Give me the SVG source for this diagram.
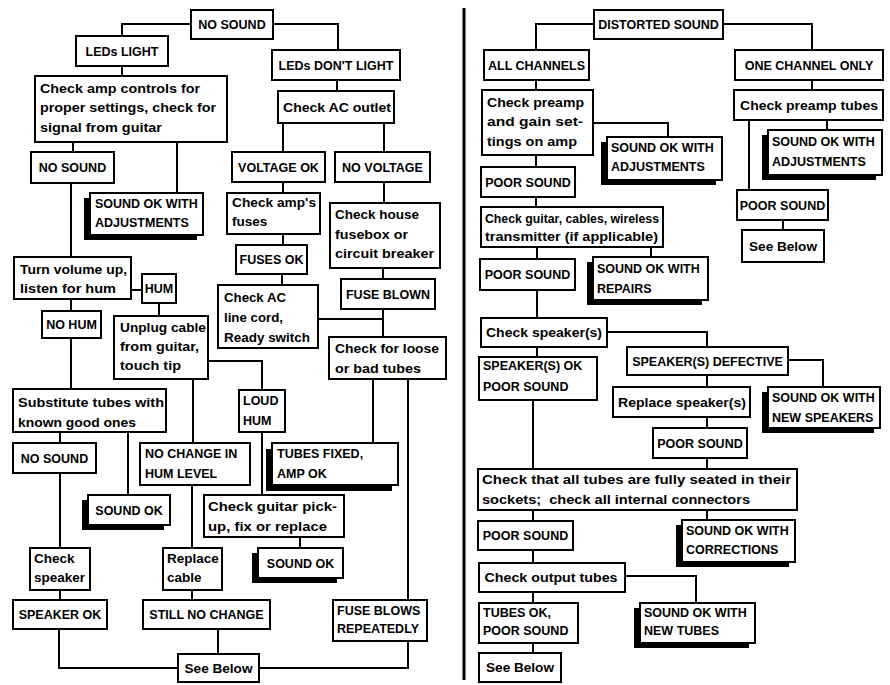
<svg xmlns="http://www.w3.org/2000/svg" width="890" height="685" viewBox="0 0 890 685">
<style>
.box{fill:#fff;stroke:#000;stroke-width:2}
.sh{fill:#000}
.c{fill:none;stroke:#000;stroke-width:2}
text{font-family:"Liberation Sans",Arial,sans-serif;font-weight:bold;font-size:12.5px;fill:#000}
.l{font-size:13.5px}
.m{text-anchor:middle}
.pre{white-space:pre}
</style>
<rect width="890" height="685" fill="#fff"/>
<g id="connectors">
<path class="c" d="M191,24H122V36"/>
<path class="c" d="M273,24H338V50"/>
<path class="c" d="M122,66V76"/>
<path class="c" d="M73,142V152"/>
<path class="c" d="M177,142V193"/>
<path class="c" d="M71,183V257"/>
<path class="c" d="M131,290H142"/>
<path class="c" d="M71,299V311"/>
<path class="c" d="M159,303V316"/>
<path class="c" d="M71,338V389"/>
<path class="c" d="M208,361H262V390"/>
<path class="c" d="M193,379V443"/>
<path class="c" d="M262,432V495"/>
<path class="c" d="M60,432V443"/>
<path class="c" d="M128,432V495"/>
<path class="c" d="M60,473V548"/>
<path class="c" d="M60,590V600"/>
<path class="c" d="M59,629V668H178"/>
<path class="c" d="M192,485V548"/>
<path class="c" d="M192,590V600"/>
<path class="c" d="M218,629V654"/>
<path class="c" d="M300,537V548"/>
<path class="c" d="M337,80V91"/>
<path class="c" d="M283,123V152"/>
<path class="c" d="M384,123V152"/>
<path class="c" d="M283,182V193"/>
<path class="c" d="M384,182V203"/>
<path class="c" d="M283,234V245"/>
<path class="c" d="M383,268V279"/>
<path class="c" d="M282,274V285"/>
<path class="c" d="M383,309V337"/>
<path class="c" d="M318,319H383"/>
<path class="c" d="M373,379V443"/>
<path class="c" d="M408,379V600"/>
<path class="c" d="M408,641V668H259"/>
<path class="c" d="M594,24H536V50"/>
<path class="c" d="M723,24H812V50"/>
<path class="c" d="M536,80V90"/>
<path class="c" d="M593,123H668V137"/>
<path class="c" d="M536,155V167"/>
<path class="c" d="M536,197V207"/>
<path class="c" d="M537,247V259"/>
<path class="c" d="M651,247V257"/>
<path class="c" d="M537,290V318"/>
<path class="c" d="M537,347V357"/>
<path class="c" d="M607,332H707V347"/>
<path class="c" d="M788,360H823V387"/>
<path class="c" d="M707,375V387"/>
<path class="c" d="M707,417V428"/>
<path class="c" d="M707,458V469"/>
<path class="c" d="M533,400V469"/>
<path class="c" d="M707,510V520"/>
<path class="c" d="M533,510V521"/>
<path class="c" d="M533,550V563"/>
<path class="c" d="M625,576H696V603"/>
<path class="c" d="M533,592V603"/>
<path class="c" d="M533,643V653"/>
<path class="c" d="M812,80V90"/>
<path class="c" d="M827,120V130"/>
<path class="c" d="M749,120V190"/>
<path class="c" d="M783,220V230"/>
</g>
<path id="divider" d="M464,8V680" stroke="#000" stroke-width="3" fill="none"/>
<g id="n-nosound"><rect class="box" x="191" y="10" width="82" height="29"/><text class="m" x="232" y="29">NO SOUND</text></g>
<g id="n-ledslight"><rect class="box" x="76" y="36" width="92" height="30"/><text class="m" x="122" y="56">LEDs LIGHT</text></g>
<g id="n-checkamp"><rect class="box" x="35" y="76" width="192" height="66"/><text class="l" x="40" y="93" textLength="160" lengthAdjust="spacingAndGlyphs">Check amp controls for</text><text class="l" x="40" y="112" textLength="176" lengthAdjust="spacingAndGlyphs">proper settings, check for</text><text class="l" x="40" y="132" textLength="122" lengthAdjust="spacingAndGlyphs">signal from guitar</text></g>
<g id="n-nosound2"><rect class="box" x="31" y="152" width="83" height="31"/><text class="m" x="72.5" y="172">NO SOUND</text></g>
<g id="n-okadj1"><rect class="sh" x="84" y="198" width="113" height="42"/><rect class="box" x="90" y="193" width="113" height="42"/><text x="95" y="208">SOUND OK WITH</text><text x="95" y="227">ADJUSTMENTS</text></g>
<g id="n-turnvol"><rect class="box" x="14" y="257" width="117" height="42"/><text class="l" x="20" y="274" textLength="107" lengthAdjust="spacingAndGlyphs">Turn volume up,</text><text class="l" x="20" y="293" textLength="96" lengthAdjust="spacingAndGlyphs">listen for hum</text></g>
<g id="n-hum"><rect class="box" x="142" y="274" width="34" height="29"/><text class="m" x="159" y="293">HUM</text></g>
<g id="n-nohum"><rect class="box" x="42" y="311" width="59" height="27"/><text class="m" x="71.5" y="329">NO HUM</text></g>
<g id="n-unplug"><rect class="box" x="114" y="316" width="94" height="63"/><text class="l" x="120" y="332" textLength="86" lengthAdjust="spacingAndGlyphs">Unplug cable</text><text class="l" x="120" y="351" textLength="79" lengthAdjust="spacingAndGlyphs">from guitar,</text><text class="l" x="120" y="370" textLength="61" lengthAdjust="spacingAndGlyphs">touch tip</text></g>
<g id="n-substitute"><rect class="box" x="13" y="389" width="153" height="43"/><text class="l" x="18" y="407" textLength="146" lengthAdjust="spacingAndGlyphs">Substitute tubes with</text><text class="l" x="18" y="427" textLength="118" lengthAdjust="spacingAndGlyphs">known good ones</text></g>
<g id="n-loudhum"><rect class="box" x="239" y="390" width="46" height="42"/><text x="243" y="405">LOUD</text><text x="243" y="425">HUM</text></g>
<g id="n-nochange"><rect class="box" x="140" y="443" width="110" height="42"/><text x="145" y="458">NO CHANGE IN</text><text x="145" y="478">HUM LEVEL</text></g>
<g id="n-tubesfixed"><rect class="sh" x="266" y="449" width="126" height="42"/><rect class="box" x="272" y="443" width="126" height="42"/><text x="277" y="458">TUBES FIXED,</text><text x="277" y="478">AMP OK</text></g>
<g id="n-pickup"><rect class="box" x="204" y="495" width="140" height="42"/><text class="l" x="208" y="511" textLength="129" lengthAdjust="spacingAndGlyphs">Check guitar pick-</text><text class="l" x="208" y="531" textLength="119" lengthAdjust="spacingAndGlyphs">up, fix or replace</text></g>
<g id="n-soundok2"><rect class="sh" x="252" y="553" width="85" height="30"/><rect class="box" x="258" y="548" width="85" height="30"/><text class="m" x="300.5" y="568">SOUND OK</text></g>
<g id="n-nosound3"><rect class="box" x="13" y="443" width="83" height="30"/><text class="m" x="54.5" y="463">NO SOUND</text></g>
<g id="n-soundok1"><rect class="sh" x="82" y="500" width="82" height="30"/><rect class="box" x="88" y="495" width="82" height="30"/><text class="m" x="129" y="515">SOUND OK</text></g>
<g id="n-checkspeaker"><rect class="box" x="30" y="548" width="60" height="42"/><text class="l" x="34" y="563">Check</text><text class="l" x="34" y="582">speaker</text></g>
<g id="n-speakerok"><rect class="box" x="13" y="600" width="94" height="29"/><text class="m" x="60" y="619">SPEAKER OK</text></g>
<g id="n-replacecable"><rect class="box" x="163" y="548" width="59" height="42"/><text class="l" x="167" y="563">Replace</text><text class="l" x="167" y="582">cable</text></g>
<g id="n-stillno"><rect class="box" x="143" y="600" width="127" height="29"/><text class="m" x="206.5" y="619">STILL NO CHANGE</text></g>
<g id="n-seebelow1"><rect class="box" x="178" y="654" width="81" height="28"/><text class="l m" x="218.5" y="673" textLength="68" lengthAdjust="spacingAndGlyphs">See Below</text></g>
<g id="n-fuseblows"><rect class="box" x="333" y="600" width="94" height="41"/><text x="337" y="615">FUSE BLOWS</text><text x="337" y="633">REPEATEDLY</text></g>
<g id="n-ledsdont"><rect class="box" x="272" y="50" width="128" height="30"/><text class="m" x="336" y="70">LEDs DON'T LIGHT</text></g>
<g id="n-checkac"><rect class="box" x="278" y="91" width="116" height="32"/><text class="l m" x="337" y="112" textLength="108" lengthAdjust="spacingAndGlyphs">Check AC outlet</text></g>
<g id="n-voltageok"><rect class="box" x="232" y="152" width="93" height="30"/><text class="m" x="278.5" y="172">VOLTAGE OK</text></g>
<g id="n-novoltage"><rect class="box" x="335" y="152" width="95" height="30"/><text class="m" x="382.5" y="172">NO VOLTAGE</text></g>
<g id="n-fuses"><rect class="box" x="227" y="193" width="93" height="41"/><text class="l" x="232" y="207" textLength="84" lengthAdjust="spacingAndGlyphs">Check amp's</text><text class="l" x="232" y="226">fuses</text></g>
<g id="n-house"><rect class="box" x="330" y="203" width="110" height="65"/><text class="l" x="335" y="219" textLength="84" lengthAdjust="spacingAndGlyphs">Check house</text><text class="l" x="335" y="239" textLength="73" lengthAdjust="spacingAndGlyphs">fusebox or</text><text class="l" x="335" y="258" textLength="99" lengthAdjust="spacingAndGlyphs">circuit breaker</text></g>
<g id="n-fusesok"><rect class="box" x="236" y="245" width="71" height="29"/><text class="m" x="271.5" y="264">FUSES OK</text></g>
<g id="n-fuseblown"><rect class="box" x="341" y="279" width="94" height="30"/><text class="m" x="388" y="299">FUSE BLOWN</text></g>
<g id="n-linecord"><rect class="box" x="218" y="285" width="100" height="63"/><text class="l" x="224" y="302" textLength="62" lengthAdjust="spacingAndGlyphs">Check AC</text><text class="l" x="224" y="322" textLength="59" lengthAdjust="spacingAndGlyphs">line cord,</text><text class="l" x="224" y="342" textLength="86" lengthAdjust="spacingAndGlyphs">Ready switch</text></g>
<g id="n-loose"><rect class="box" x="329" y="337" width="117" height="42"/><text class="l" x="335" y="353" textLength="104" lengthAdjust="spacingAndGlyphs">Check for loose</text><text class="l" x="335" y="373" textLength="86" lengthAdjust="spacingAndGlyphs">or bad tubes</text></g>
<g id="n-distorted"><rect class="box" x="594" y="10" width="129" height="29"/><text class="m" x="658.5" y="29">DISTORTED SOUND</text></g>
<g id="n-allch"><rect class="box" x="484" y="50" width="105" height="30"/><text class="m" x="536.5" y="70">ALL CHANNELS</text></g>
<g id="n-preamp"><rect class="box" x="482" y="90" width="111" height="65"/><text class="l" x="487" y="107" textLength="97" lengthAdjust="spacingAndGlyphs">Check preamp</text><text class="l" x="487" y="126" textLength="96" lengthAdjust="spacingAndGlyphs">and gain set-</text><text class="l" x="487" y="146" textLength="90" lengthAdjust="spacingAndGlyphs">tings on amp</text></g>
<g id="n-okadj2"><rect class="sh" x="601" y="142" width="115" height="43"/><rect class="box" x="607" y="137" width="115" height="43"/><text x="611" y="152">SOUND OK WITH</text><text x="611" y="171">ADJUSTMENTS</text></g>
<g id="n-poor1"><rect class="box" x="481" y="167" width="94" height="30"/><text class="m" x="528" y="187">POOR SOUND</text></g>
<g id="n-checkguitar"><rect class="box" x="481" y="207" width="182" height="40"/><text class="l" x="485" y="223" textLength="174" lengthAdjust="spacingAndGlyphs">Check guitar, cables, wireless</text><text class="l" x="485" y="241" textLength="173" lengthAdjust="spacingAndGlyphs">transmitter (if applicable)</text></g>
<g id="n-poor2"><rect class="box" x="480" y="259" width="95" height="31"/><text class="m" x="527.5" y="279">POOR SOUND</text></g>
<g id="n-repairs"><rect class="sh" x="587" y="262" width="115" height="43"/><rect class="box" x="593" y="257" width="115" height="43"/><text x="597" y="273">SOUND OK WITH</text><text x="597" y="293">REPAIRS</text></g>
<g id="n-checkspk"><rect class="box" x="481" y="318" width="126" height="29"/><text class="l m" x="544" y="337" textLength="116" lengthAdjust="spacingAndGlyphs">Check speaker(s)</text></g>
<g id="n-spkok"><rect class="box" x="479" y="357" width="118" height="43"/><text x="483" y="370">SPEAKER(S) OK</text><text x="483" y="391">POOR SOUND</text></g>
<g id="n-spkdef"><rect class="box" x="627" y="347" width="161" height="28"/><text class="m" x="707.5" y="366">SPEAKER(S) DEFECTIVE</text></g>
<g id="n-newspk"><rect class="sh" x="762" y="392" width="112" height="41"/><rect class="box" x="768" y="387" width="112" height="41"/><text x="772" y="402">SOUND OK WITH</text><text x="772" y="422">NEW SPEAKERS</text></g>
<g id="n-replspk"><rect class="box" x="613" y="387" width="137" height="30"/><text class="l m" x="682" y="407" textLength="128" lengthAdjust="spacingAndGlyphs">Replace speaker(s)</text></g>
<g id="n-poor3"><rect class="box" x="653" y="428" width="94" height="30"/><text class="m" x="700" y="448">POOR SOUND</text></g>
<g id="n-seated"><rect class="box" x="478" y="469" width="319" height="41"/><text class="l" x="482" y="484" textLength="309" lengthAdjust="spacingAndGlyphs">Check that all tubes are fully seated in their</text><text class="l pre" x="482" y="504" textLength="268" lengthAdjust="spacingAndGlyphs">sockets;  check all internal connectors</text></g>
<g id="n-corrections"><rect class="sh" x="676" y="525" width="113" height="42"/><rect class="box" x="682" y="520" width="113" height="42"/><text x="686" y="535">SOUND OK WITH</text><text x="686" y="554">CORRECTIONS</text></g>
<g id="n-poor4"><rect class="box" x="478" y="521" width="95" height="29"/><text class="m" x="525.5" y="540">POOR SOUND</text></g>
<g id="n-output"><rect class="box" x="479" y="563" width="146" height="29"/><text class="l m" x="551" y="582" textLength="133" lengthAdjust="spacingAndGlyphs">Check output tubes</text></g>
<g id="n-tubesok"><rect class="box" x="479" y="603" width="99" height="40"/><text x="483" y="617">TUBES OK,</text><text x="483" y="635">POOR SOUND</text></g>
<g id="n-newtubes"><rect class="sh" x="634" y="608" width="115" height="40"/><rect class="box" x="640" y="603" width="115" height="40"/><text x="644" y="617">SOUND OK WITH</text><text x="644" y="635">NEW TUBES</text></g>
<g id="n-seebelow2"><rect class="box" x="479" y="653" width="82" height="29"/><text class="l m" x="520" y="672" textLength="68" lengthAdjust="spacingAndGlyphs">See Below</text></g>
<g id="n-onech"><rect class="box" x="735" y="50" width="148" height="30"/><text class="m" x="809" y="70">ONE CHANNEL ONLY</text></g>
<g id="n-preamptubes"><rect class="box" x="734" y="90" width="149" height="30"/><text class="l m" x="809" y="110" textLength="138" lengthAdjust="spacingAndGlyphs">Check preamp tubes</text></g>
<g id="n-okadj3"><rect class="sh" x="762" y="135" width="114" height="45"/><rect class="box" x="768" y="130" width="114" height="45"/><text x="772" y="146">SOUND OK WITH</text><text x="772" y="166">ADJUSTMENTS</text></g>
<g id="n-poor5"><rect class="box" x="737" y="190" width="91" height="30"/><text class="m" x="782.5" y="210">POOR SOUND</text></g>
<g id="n-seebelow3"><rect class="box" x="742" y="230" width="82" height="32"/><text class="l m" x="783" y="251" textLength="68" lengthAdjust="spacingAndGlyphs">See Below</text></g>
</svg>
